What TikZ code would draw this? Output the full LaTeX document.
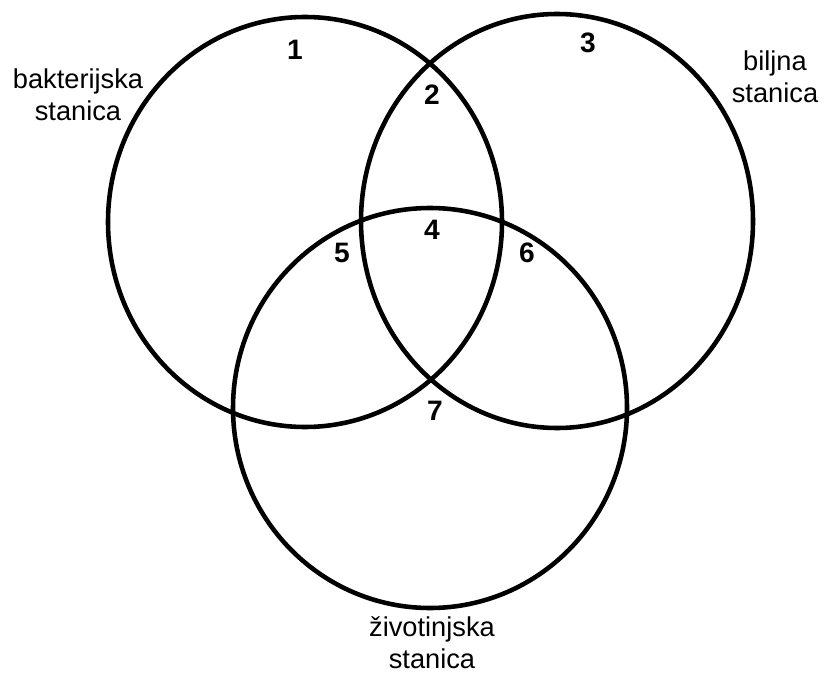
\documentclass[tikz,border=0pt]{standalone}
\usepackage{fontspec}
\setmainfont{Liberation Sans}
\usepackage{tikz}
\tikzset{ring/.style={line width=2.6pt}}
\tikzset{num/.style={font=\fontsize{16}{18}\selectfont\bfseries}}
\tikzset{lbl/.style={align=center, font=\fontsize{15.5}{18.2}\selectfont}}

\begin{document}
\begin{tikzpicture}[x=0.02cm, y=-0.02cm]
\useasboundingbox (0,0) rectangle (824,675);
\draw[ring] (305,222) circle[x radius=197, y radius=205];
\draw[ring] (557,221) circle[x radius=196, y radius=207];
\draw[ring] (430,408) circle[x radius=197, y radius=200];
\node[num] (n1) at (295,50) {1};
\node[num] (n2) at (432,95) {2};
\node[num] (n3) at (588,43) {3};
\node[num] (n4) at (432,230) {4};
\node[num] (n5) at (342,253) {5};
\node[num] (n6) at (527,253) {6};
\node[num] (n7) at (435,411) {7};
\node[lbl] (bakt) at (78,95) {bakterijska\\stanica};
\node[lbl] (bilj) at (775,77) {biljna\\stanica};
\node[lbl] (zivo) at (432,643) {životinjska\\stanica};
\end{tikzpicture}
\end{document}
